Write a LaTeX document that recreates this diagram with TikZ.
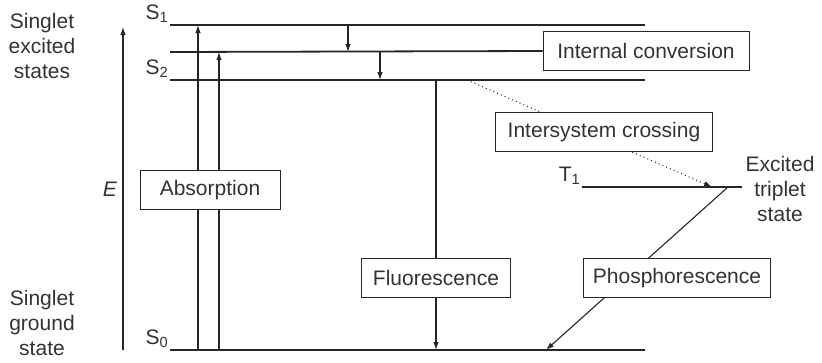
\documentclass[tikz,border=0pt]{standalone}
\usepackage{fontspec}
\setmainfont{Liberation Sans}
\usetikzlibrary{arrows.meta}

\begin{document}
\begin{tikzpicture}[x=1pt, y=-1pt, >={Latex[length=8pt, width=5.5pt]},
    statebar/.style={line width=1.8pt, draw=black!85},
    transition/.style={line width=1.1pt, draw=black!85},
    boxlabel/.style={draw=black!85, line width=0.9pt, fill=white, minimum height=39pt, inner xsep=4pt, font=\fontsize{21}{25}\selectfont, text=black!80},
    sidetext/.style={align=center, font=\fontsize{21}{25}\selectfont, text=black!80},
    levelname/.style={anchor=base east, inner sep=1.5pt, font=\fontsize{21}{25}\selectfont, text=black!80}]
    \useasboundingbox (0,0) rectangle (822,362);

    % Energy axis
    \coordinate (ebot) at (123,350);
    \coordinate (etop) at (123,27);
    \draw[->, transition] (ebot) -- (etop);
    \node[sidetext] (elab) at (110,189) {\textit{E}};

    % Side labels
    \node[sidetext] (exc) at (42,46) {Singlet\\excited\\states};
    \node[sidetext] (gnd) at (42,323) {Singlet\\ground\\state};
    \node[sidetext] (trip) at (780,189) {Excited\\triplet\\state};

    % Energy levels
    \coordinate (s1a) at (170,25);  \coordinate (s1b) at (645,25);
    \coordinate (sva) at (170,52);
    \coordinate (s2a) at (170,80);  \coordinate (s2b) at (645,80);
    \coordinate (s0a) at (170,350); \coordinate (s0b) at (645,350);
    \coordinate (t1a) at (582,187); \coordinate (t1b) at (742,187);

    \draw[statebar] (s1a) -- (s1b);
    \draw[statebar] (s2a) -- (s2b);
    \draw[statebar] (s0a) -- (s0b);
    \draw[statebar] (t1a) -- (t1b);

    \node[levelname] (s1n) at ([yshift=6pt]s1a) {S\textsubscript{1}};
    \node[levelname] (s2n) at ([yshift=6pt]s2a) {S\textsubscript{2}};
    \node[levelname] (s0n) at ([yshift=6pt]s0a) {S\textsubscript{0}};
    \node[levelname] (t1n) at ([yshift=6pt]t1a) {T\textsubscript{1}};

    % Transition end points
    \coordinate (ab1) at (198,350); \coordinate (ab1e) at (198,25);
    \coordinate (ab2) at (219,350); \coordinate (ab2e) at (219,52);
    \coordinate (ic1) at (348,25);  \coordinate (ic1e) at (348,52);
    \coordinate (ic2) at (380,52);  \coordinate (ic2e) at (380,80);
    \coordinate (fl) at (436,80);   \coordinate (fle) at (436,350);
    \coordinate (isc) at (467,80);  \coordinate (isce) at (712,187);
    \coordinate (ph) at (728,187);  \coordinate (phe) at (546,350);

    % Transitions
    \draw[->, transition] (ab1) -- (ab1e);
    \draw[->, transition] (ab2) -- (ab2e);
    \draw[->, transition] (ic1) -- (ic1e);
    \draw[->, transition] (ic2) -- (ic2e);
    \draw[->, transition] (fl) -- (fle);
    \draw[->, transition, dash pattern=on 0.9pt off 3.2pt] (isc) -- (isce);
    \draw[->, transition] (ph) -- (phe);

    % Labels
    \node[boxlabel, minimum width=140pt] (absorb) at (210,190) {Absorption};
    \node[boxlabel, minimum width=206pt] (intconv) at (646,51) {Internal conversion};
    \node[boxlabel, minimum width=149pt] (fluor) at (436,277.5) {Fluorescence};
    \node[boxlabel, minimum width=217pt] (iscbox) at (604,132) {Intersystem crossing};
    \node[boxlabel, minimum width=187pt] (phos) at (677,278) {Phosphorescence};

    % Middle singlet level runs into the label box
    \draw[statebar] (sva) -- (intconv.west);
\end{tikzpicture}
\end{document}
